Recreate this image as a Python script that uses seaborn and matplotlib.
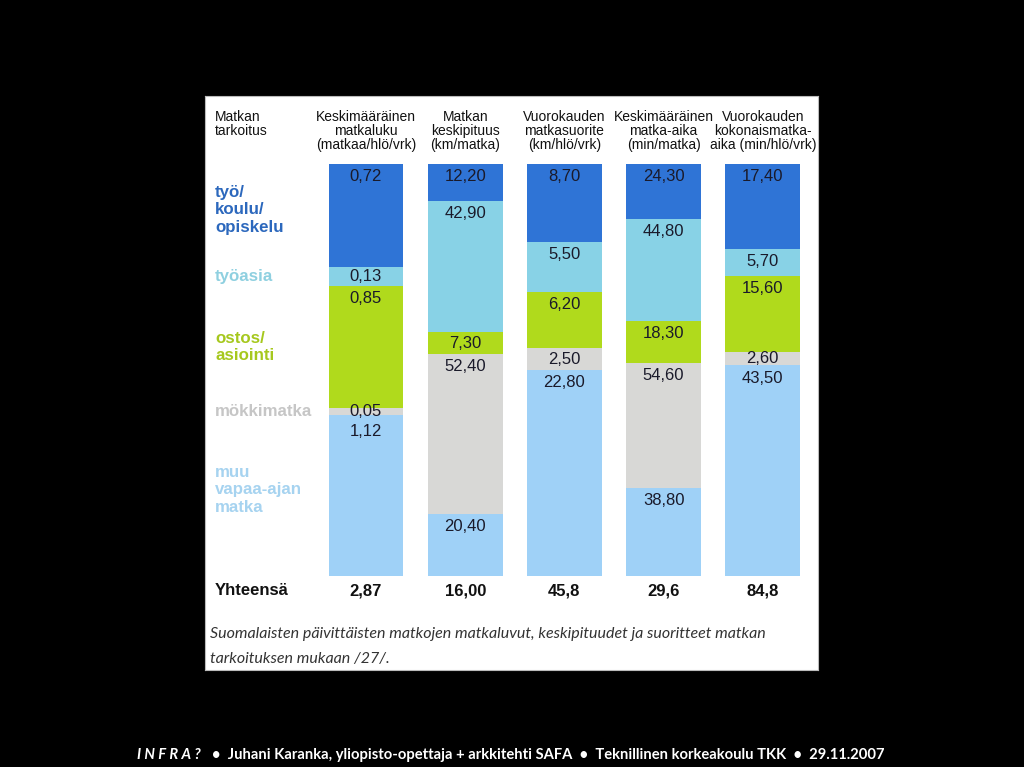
import matplotlib
matplotlib.use("Agg")
import matplotlib.pyplot as plt
import seaborn as sns
import numpy as np
import pandas as pd

# ---------------- data ----------------
purposes = ["työ/\nkoulu/\nopiskelu", "työasia", "ostos/\nasiointi", "mökkimatka", "muu\nvapaa-ajan\nmatka"]
measures = ["Keskimääräinen\nmatkaluku\n(matkaa/hlö/vrk)",
            "Matkan\nkeskipituus\n(km/matka)",
            "Vuorokauden\nmatkasuorite\n(km/hlö/vrk)",
            "Keskimääräinen\nmatka-aika\n(min/matka)",
            "Vuorokauden\nkokonaismatka-\naika (min/hlö/vrk)"]
tyo = [0.72, 12.20, 8.70, 24.30, 17.40]
tyoasia = [0.13, 42.90, 5.50, 44.80, 5.70]
ostos = [0.85, 7.30, 6.20, 18.30, 15.60]
mokki = [0.05, 52.40, 2.50, 54.60, 2.60]
muu = [1.12, 20.40, 22.80, 38.80, 43.50]
totals = ["2,87", "16,00", "45,8", "29,6", "84,8"]

bar_colors = ["#2f74d6", "#88d2e6", "#b0da1c", "#d8d8d6", "#9fd1f7"]
label_colors = ["#2c68bd", "#8fd0e0", "#a6c81e", "#c6c6c6", "#a6d3f0"]

sns.set_theme(style="white")
plt.rcParams['font.family'] = ['Liberation Sans', 'DejaVu Sans']

vals = np.array([tyo, tyoasia, ostos, mokki, muu])
shares = vals / vals.sum(axis=0)
cum = np.cumsum(shares, axis=0)
tops = cum - shares
pos = np.arange(len(measures))

fig = plt.figure(figsize=(10.24, 7.67), dpi=100, facecolor="black")
ax = fig.add_axes([205 / 1024, 1 - 670 / 767, 613 / 1024, 574 / 767])
ax.set_facecolor("white")

# stacked bars: draw cumulative heights from the back layer to the front
for k in range(len(purposes) - 1, -1, -1):
    df = pd.DataFrame({"x": pos, "y": cum[k]})
    sns.barplot(data=df, x="x", y="y", color=bar_colors[k], saturation=1,
                width=0.756, native_scale=True, errorbar=None, linewidth=0, ax=ax)

step = 99.2
xmin = -(366 - 205) / step
xmax = (818 - 366) / step
ax.set_xlim(xmin, xmax)
ylo, yhi = -0.165, 1.228
ax.set_ylim(yhi, ylo)
ax.set_xticks([])
ax.set_yticks([])
ax.set_xlabel("")
ax.set_ylabel("")
for s in ax.spines.values():
    s.set_color("#bbbbbb")
    s.set_linewidth(0.8)

px = (yhi - ylo) / 574.0  # data units per pixel

# segment value labels
for j in range(len(measures)):
    prev = -1e9
    for k in range(len(purposes)):
        y = min(tops[k, j] + 12.5 * px, tops[k, j] + shares[k, j] / 2)
        y = max(y, prev + 20 * px)
        prev = y
        ax.text(pos[j], y, f"{vals[k, j]:.2f}".replace(".", ","), ha="center", va="center",
                fontsize=12, color="#1a1a2a")

# left purpose labels, at the centres of the first bar's segments
left_x = xmin + 10 / step
for k in range(len(purposes)):
    yc = tops[k, 0] + shares[k, 0] / 2
    if k == 0 or k == 4:
        yc -= 6 * px
    ax.text(left_x, yc, purposes[k], ha="left", va="center", fontsize=12.2,
            fontweight="bold", color=label_colors[k], linespacing=1.2)

# headers
ax.text(left_x, -0.0975, "Matkan\ntarkoitus", ha="left", va="center", fontsize=10,
        color="#111111", linespacing=1.05)
for j in range(len(measures)):
    ax.text(pos[j], -0.081, measures[j], ha="center", va="center", fontsize=10,
            color="#111111", linespacing=1.0)

# totals row
ax.text(left_x, 1.036, "Yhteensä", ha="left", va="center", fontsize=12,
        fontweight="bold", color="#111111")
for j in range(len(measures)):
    ax.text(pos[j], 1.036, totals[j], ha="center", va="center", fontsize=12,
            fontweight="bold", color="#111111")

# caption
fig.text(210 / 1024, 1 - 634 / 767,
         "Suomalaisten päivittäisten matkojen matkaluvut, keskipituudet ja suoritteet matkan",
         ha="left", va="center", fontsize=11.5, style="italic", color="#333333", family="Lato")
fig.text(210 / 1024, 1 - 659 / 767, "tarkoituksen mukaan /27/.",
         ha="left", va="center", fontsize=11.5, style="italic", color="#333333", family="Lato")

# footer
fig.text(137 / 1024, 1 - 755 / 767, "I N F R A ?", ha="left", va="center", fontsize=10.6,
         style="italic", fontweight="bold", color="white", family="Lato")
fig.text(212 / 1024, 1 - 755 / 767,
         "•  Juhani Karanka, yliopisto-opettaja + arkkitehti SAFA  •  Teknillinen korkeakoulu TKK  •  29.11.2007",
         ha="left", va="center", fontsize=10.6, fontweight="bold", color="white", family="Lato")

fig.savefig("out.png", dpi=100, facecolor="black")
